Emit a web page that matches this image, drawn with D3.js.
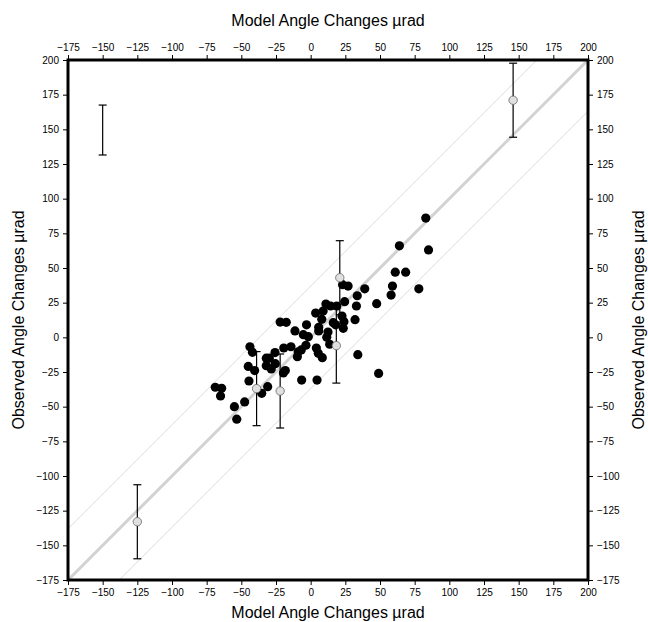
<!DOCTYPE html>
<html>
<head>
<meta charset="utf-8">
<script src="https://cdn.jsdelivr.net/npm/d3@7"></script>
<style>
body { margin: 0; background: #fff; }
svg text { font-family: "Liberation Sans", Arial, sans-serif; }
</style>
</head>
<body>
<svg id="chart" width="648" height="622"></svg>
<script>
// observed vs model angle changes (black dots)
var modelVals = [83, 64, 85, 61, 68.5, 59, 58, 78, 39, 33.6, 27, 23, 24.5, 33, 47.6, 32,
	11, 14.4, 18.8, 3.6, 9, 8, 22.6, 16.3, 24, 23.5, 18, 5.8, 5.8, 12.5, 11.6, 13.7,
	-3, -11.3, -5.3, -1.7, -3.4, -22, -17.6, -19.4, -14.2, -9, -6.8, -9.6, 4.1, 5.5, 8.4,
	34, 49, -6.5, 4.6, -43.8, -42, -32, -29.8, -25.7, -45, -40.4, -32, -28.4, -25.5,
	-18.3, -19.7, -44.5, -31, -35.3, -68.8, -64.2, -65, -47.6, -55, -53.3];
var observedVals = [86, 66, 63, 47, 47, 37, 30.5, 35, 35, 30, 37, 38, 25.7, 22.6, 24.3, 12.7,
	24, 22.6, 22.6, 17.5, 19, 13, 15.4, 10.6, 11.3, 6.5, 9, 7.2, 4.6, 3.8, 0, -5,
	9, 4.6, 1.9, 0.5, -5.7, 11, 10.8, -7.7, -6.8, -10.4, -9.1, -14, -7.7, -11.5, -14.7,
	-12.5, -26, -30.8, -30.8, -6.8, -10.8, -15, -15, -11, -21, -24, -20.5, -22.8, -19,
	-24, -25.7, -31.5, -35.6, -40.4, -36, -36.8, -42.3, -46.6, -50, -59];

// gray points with error bars
var errModel = [-125, 146, 21, 18.5, -39, -22];
var errObserved = [-133, 171, 43, -6, -37, -38.7];
var errSize = [26.7, 26.7, 26.7, 27, 26.7, 26.7];

// error bar key (top left)
var keyX = -150, keyY = 149.5, keyErr = 18;

var lineOffset = 37;
var domainMin = -175, domainMax = 200;
var tickVals = d3.range(-175, 201, 25);

var padL = 68, padT = 60, size = 520;
var svg = d3.select('#chart');

var x = d3.scaleLinear().domain([domainMin, domainMax]).range([padL, padL + size]);
var y = d3.scaleLinear().domain([domainMin, domainMax]).range([padT + size, padT]);

svg.append('clipPath').attr('id', 'clip')
	.append('rect').attr('x', padL).attr('y', padT).attr('width', size).attr('height', size);

var plot = svg.append('g').attr('clip-path', 'url(#clip)');

// 1:1 line and offsets
[-lineOffset, lineOffset].forEach(function(o){
	plot.append('line')
		.attr('x1', x(domainMin - 100)).attr('y1', y(domainMin - 100 + o))
		.attr('x2', x(domainMax + 100)).attr('y2', y(domainMax + 100 + o))
		.attr('stroke', '#dcdcdc').attr('stroke-width', 1);
});
plot.append('line')
	.attr('x1', x(domainMin)).attr('y1', y(domainMin))
	.attr('x2', x(domainMax)).attr('y2', y(domainMax))
	.attr('stroke', '#d2d2d2').attr('stroke-width', 3);

var pts = modelVals.map(function(d, i){ return {m: d, o: observedVals[i]}; });
plot.selectAll('circle.obs').data(pts).enter().append('circle')
	.attr('class', 'obs')
	.attr('cx', function(d){ return x(d.m); })
	.attr('cy', function(d){ return y(d.o); })
	.attr('r', 4.6)
	.attr('fill', '#000');

var errs = errModel.map(function(d, i){ return {m: d, o: errObserved[i], e: errSize[i]}; });
var cap = 4;
function errBar(g, m, o, e){
	g.append('line').attr('x1', x(m)).attr('x2', x(m)).attr('y1', y(o - e)).attr('y2', y(o + e));
	g.append('line').attr('x1', x(m) - cap).attr('x2', x(m) + cap).attr('y1', y(o - e)).attr('y2', y(o - e));
	g.append('line').attr('x1', x(m) - cap).attr('x2', x(m) + cap).attr('y1', y(o + e)).attr('y2', y(o + e));
}
var eg = plot.append('g').attr('stroke', '#000').attr('stroke-width', 1.2);
errs.forEach(function(d){ errBar(eg, d.m, d.o, d.e); });
errBar(eg, keyX, keyY, keyErr);

plot.selectAll('circle.err').data(errs).enter().append('circle')
	.attr('class', 'err')
	.attr('cx', function(d){ return x(d.m); })
	.attr('cy', function(d){ return y(d.o); })
	.attr('r', 4.2)
	.attr('fill', '#e0e0e0')
	.attr('stroke', '#666')
	.attr('stroke-width', 0.8);

// axes
function styleAxis(g){
	g.select('.domain').remove();
	g.selectAll('.tick line').attr('stroke', '#000').attr('stroke-width', 1);
	g.selectAll('.tick text').attr('font-size', 10).attr('fill', '#000')
		.attr('font-family', '"Liberation Sans", Arial, sans-serif');
}
svg.append('g').attr('transform', 'translate(0,' + (padT + size) + ')')
	.call(d3.axisBottom(x).tickValues(tickVals).tickSize(5).tickPadding(4)).call(styleAxis);
svg.append('g').attr('transform', 'translate(0,' + padT + ')')
	.call(d3.axisTop(x).tickValues(tickVals).tickSize(5).tickPadding(4)).call(styleAxis);
svg.append('g').attr('transform', 'translate(' + padL + ',0)')
	.call(d3.axisLeft(y).tickValues(tickVals).tickSize(5).tickPadding(4)).call(styleAxis);
svg.append('g').attr('transform', 'translate(' + (padL + size) + ',0)')
	.call(d3.axisRight(y).tickValues(tickVals).tickSize(5).tickPadding(4)).call(styleAxis);

svg.append('rect').attr('x', padL).attr('y', padT).attr('width', size).attr('height', size)
	.attr('fill', 'none').attr('stroke', '#000').attr('stroke-width', 3);

// titles
svg.append('text').attr('x', padL + size / 2).attr('y', 26).attr('text-anchor', 'middle')
	.attr('font-size', 16).text('Model Angle Changes µrad');
svg.append('text').attr('x', padL + size / 2).attr('y', 618).attr('text-anchor', 'middle')
	.attr('font-size', 16).text('Model Angle Changes µrad');
svg.append('text').attr('transform', 'translate(24,' + (padT + size / 2) + ') rotate(-90)')
	.attr('text-anchor', 'middle').attr('font-size', 16).text('Observed Angle Changes µrad');
svg.append('text').attr('transform', 'translate(644,' + (padT + size / 2) + ') rotate(-90)')
	.attr('text-anchor', 'middle').attr('font-size', 16).text('Observed Angle Changes µrad');
</script>
</body>
</html>
